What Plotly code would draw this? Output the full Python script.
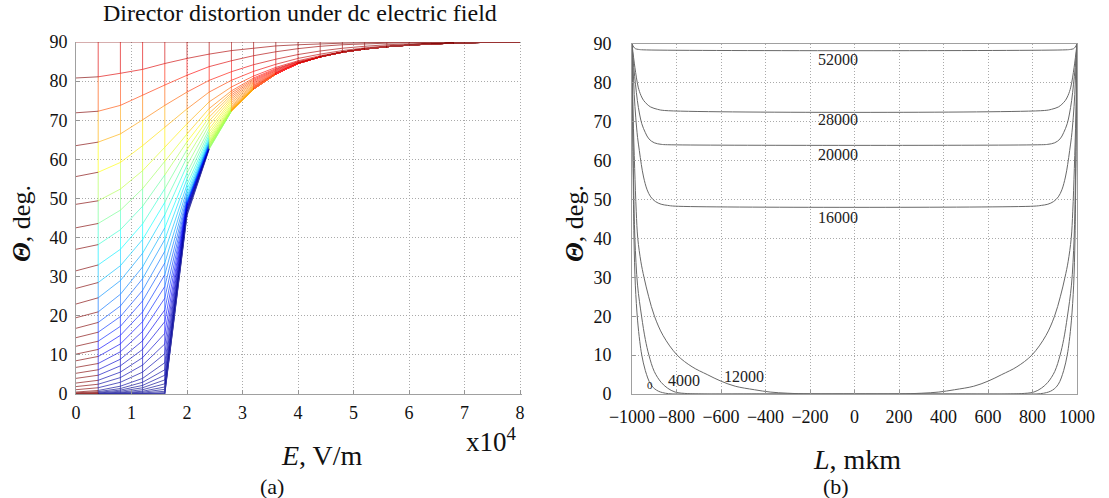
import plotly.graph_objects as go
from plotly.colors import sample_colorscale

W, H = 1109, 498

# ---------------- panel (a): director angle vs field, mesh lines ----------------
E_grid = [0.0, 0.4, 0.8, 1.2, 1.6, 2.0, 2.4, 2.8, 3.2, 3.6, 4.0,
          4.4, 4.8, 5.2, 5.6, 6.0, 6.4, 6.8, 7.2, 7.6, 8.0]   # x10^4 V/m

# lines near the walls (full rows, all 21 field values)
wall_rows_full = [
    [90.0, 90.0, 90.0, 90.0, 90.0, 90.0, 90.0, 90.0, 90.0, 90.0, 90.0, 90.0, 90.0, 90.0, 90.0, 90.0, 90.0, 90.0, 90.0, 90.0, 90.0],
    [80.8, 81.1, 82.0, 83.0, 84.5, 85.8, 86.9, 87.8, 88.4, 89.0, 89.3, 89.5, 89.7, 89.8, 89.9, 89.95, 90.0, 90.0, 90.0, 90.0, 90.0],
    [71.9, 72.3, 73.8, 76.4, 79.0, 81.5, 83.7, 85.2, 86.5, 87.5, 88.3, 88.9, 89.3, 89.5, 89.7, 89.8, 89.9, 89.95, 90.0, 90.0, 90.0],
    [63.5, 64.4, 66.5, 70.1, 73.8, 77.2, 80.2, 82.4, 84.2, 85.6, 86.8, 87.7, 88.4, 88.9, 89.3, 89.5, 89.7, 89.8, 89.9, 90.0, 90.0],
    [55.6, 56.7, 59.2, 63.5, 68.2, 72.9, 77.2, 80.2, 82.5, 84.3, 85.8, 86.9, 87.8, 88.5, 89.0, 89.3, 89.6, 89.8, 89.9, 90.0, 90.0],
    [48.5, 49.4, 52.4, 57.1, 63.1, 69.1, 74.7, 78.5, 81.3, 83.5, 85.2, 86.5, 87.5, 88.3, 88.9, 89.3, 89.6, 89.8, 89.9, 90.0, 90.0],
]

# remaining lines: values for E = 0 ... 4.0, after which they all share the tail
rows_head = [
    [42.5, 43.6, 47.0, 52.5, 59.5, 66.5, 73.0, 77.5, 80.8, 83.2, 85.0],
    [37.0, 38.2, 42.0, 48.0, 56.0, 64.5, 71.8, 77.0, 80.5, 83.0, 84.9],
    [31.5, 33.0, 37.0, 43.5, 52.5, 62.5, 70.8, 76.5, 80.2, 82.8, 84.8],
    [27.0, 28.5, 32.8, 39.5, 49.0, 60.5, 69.8, 76.0, 79.9, 82.6, 84.7],
    [23.0, 24.6, 29.0, 36.0, 45.8, 58.5, 68.8, 75.5, 79.6, 82.4, 84.6],
    [19.5, 21.0, 25.5, 32.5, 42.5, 56.5, 67.8, 75.0, 79.3, 82.2, 84.6],
    [16.8, 18.3, 22.5, 29.5, 39.5, 55.0, 67.0, 74.5, 79.0, 82.1, 84.5],
    [14.4, 15.8, 19.8, 26.5, 36.5, 53.5, 66.3, 74.0, 78.8, 82.0, 84.5],
    [12.2, 13.5, 17.3, 23.8, 33.5, 52.3, 65.7, 73.6, 78.6, 81.9, 84.5],
    [10.2, 11.4, 15.0, 21.0, 30.5, 51.3, 65.2, 73.3, 78.4, 81.9, 84.5],
    [8.5, 9.6, 12.8, 18.5, 27.5, 50.5, 64.8, 73.0, 78.3, 81.8, 84.5],
    [6.8, 7.8, 10.8, 16.0, 24.5, 49.9, 64.5, 72.9, 78.2, 81.8, 84.5],
    [5.3, 6.2, 8.9, 13.6, 21.5, 49.4, 64.2, 72.8, 78.1, 81.8, 84.5],
    [4.0, 4.8, 7.2, 11.4, 18.5, 49.1, 64.0, 72.7, 78.1, 81.8, 84.5],
    [2.8, 3.5, 5.6, 9.3, 15.5, 48.9, 63.9, 72.6, 78.0, 81.8, 84.5],
    [1.9, 2.5, 4.2, 7.4, 12.8, 48.8, 63.8, 72.6, 78.0, 81.8, 84.5],
    [1.1, 1.6, 3.0, 5.6, 10.3, 48.7, 63.7, 72.5, 78.0, 81.8, 84.5],
    [0.5, 0.9, 2.0, 4.0, 8.0, 48.6, 63.6, 72.5, 78.0, 81.8, 84.5],
    [0.3, 0.6, 1.4, 3.0, 6.2, 48.3, 63.5, 72.5, 78.0, 81.8, 84.5],
    [0.2, 0.4, 1.0, 2.2, 4.8, 48.0, 63.4, 72.5, 78.0, 81.8, 84.5],
    [0.1, 0.25, 0.7, 1.6, 3.6, 47.7, 63.3, 72.5, 78.0, 81.8, 84.5],
    [0.05, 0.15, 0.45, 1.1, 2.6, 47.4, 63.2, 72.4, 78.0, 81.8, 84.5],
    [0.0, 0.1, 0.3, 0.7, 1.8, 47.1, 63.1, 72.4, 78.0, 81.8, 84.5],
    [0.0, 0.05, 0.2, 0.45, 1.2, 46.8, 63.0, 72.4, 78.0, 81.8, 84.5],
    [0.0, 0.0, 0.1, 0.25, 0.7, 46.5, 62.9, 72.4, 78.0, 81.8, 84.5],
    [0.0, 0.0, 0.05, 0.1, 0.35, 46.2, 62.8, 72.3, 78.0, 81.8, 84.5],
    [0.0, 0.0, 0.0, 0.05, 0.15, 45.9, 62.7, 72.3, 78.0, 81.8, 84.5],
    [0.0, 0.0, 0.0, 0.0, 0.0, 45.6, 62.6, 72.3, 78.0, 81.8, 84.5],
]
tail_values = [86.2, 87.4, 88.2, 88.8, 89.2, 89.5, 89.7, 89.85, 89.95, 90.0]

theta_rows = wall_rows_full + [h + tail_values for h in rows_head]

# ---------------- panel (b): profiles across the cell ----------------
L_0 = [-1000, -998, -995, -991, -985, -975, -965, -956, -940, -916, -890, -850, -700, -500, -200, 0,
       200, 500, 700, 850, 890, 916, 940, 956, 965, 975, 985, 991, 995, 998, 1000]
T_0 = [90, 75, 58, 40, 28, 19, 13.5, 10, 6, 2.5, 1.0, 0.2, 0, 0, 0, 0,
       0, 0, 0, 0.2, 1.0, 2.5, 6, 10, 13.5, 19, 28, 40, 58, 75, 90]
L_4000 = [-1000, -997, -993, -987, -975, -957, -940, -924, -900, -869, -840, -806, -750, -700, -400, 0,
          400, 700, 750, 806, 840, 869, 900, 924, 940, 957, 975, 987, 993, 997, 1000]
T_4000 = [90, 72, 55, 40, 28, 20, 14, 10, 5.8, 3.0, 1.5, 0.5, 0.1, 0, 0, 0,
          0, 0, 0.1, 0.5, 1.5, 3.0, 5.8, 10, 14, 20, 28, 40, 55, 72, 90]
L_12000 = [-1000, -995, -988, -981, -974, -960, -946, -925, -899, -860, -797, -730, -662, -600, -536, -450, -379, -300, -200, 0,
           200, 300, 379, 450, 536, 600, 662, 730, 797, 860, 899, 925, 946, 960, 974, 981, 988, 995, 1000]
T_12000 = [90, 72, 58, 47, 40, 34, 30, 25, 20, 15, 10, 7, 5, 3.3, 2.0, 1.1, 0.5, 0.2, 0.02, 0,
           0.02, 0.2, 0.5, 1.1, 2.0, 3.3, 5, 7, 10, 15, 20, 25, 30, 34, 40, 47, 58, 72, 90]
L_16000 = [-1000, -995, -990, -983, -975, -967, -958, -948, -932, -916, -895, -869, -840, -806,
           806, 840, 869, 895, 916, 932, 948, 958, 967, 975, 983, 990, 995, 1000]
T_16000 = [90, 84, 77, 71, 66, 62.6, 59, 55.8, 52.5, 50.7, 49.5, 48.8, 48.5, 48.3,
           48.3, 48.5, 48.8, 49.5, 50.7, 52.5, 55.8, 59, 62.6, 66, 71, 77, 84, 90]
L_20000 = [-1000, -992, -984, -976, -966, -956, -940, -924, -900, -869, -840,
           840, 869, 900, 924, 940, 956, 966, 976, 984, 992, 1000]
T_20000 = [90, 84, 79.5, 75.5, 72, 69.5, 67.2, 65.6, 64.6, 64.2, 64.1,
           64.1, 64.2, 64.6, 65.6, 67.2, 69.5, 72, 75.5, 79.5, 84, 90]
L_28000 = [-1000, -987, -972, -960, -948, -932, -916, -885, -853,
           853, 885, 916, 932, 948, 960, 972, 987, 1000]
T_28000 = [90, 84, 78.9, 76.8, 75.5, 74.5, 73.8, 73.2, 72.9,
           72.9, 73.2, 73.8, 74.5, 75.5, 76.8, 78.9, 84, 90]
L_52000 = [-1000, -992, -985, -970, -950, 950, 970, 985, 992, 1000]
T_52000 = [90, 89.2, 88.8, 88.6, 88.5, 88.5, 88.6, 88.8, 89.2, 90]

profile_L = [L_0, L_4000, L_12000, L_16000, L_20000, L_28000, L_52000]
profile_T = [T_0, T_4000, T_12000, T_16000, T_20000, T_28000, T_52000]

label_text = ["0", "4000", "12000", "16000", "20000", "28000", "52000"]
label_L = [-919, -765, -495, -72, -72, -72, -72]
label_T = [2.2, 3.6, 4.4, 45.3, 61.5, 70.7, 85.9]

# ---------------- colour (MATLAB jet) ----------------
JET = [[0.0, 'rgb(0,0,143)'], [0.111, 'rgb(0,0,255)'], [0.365, 'rgb(0,255,255)'],
       [0.619, 'rgb(255,255,0)'], [0.873, 'rgb(255,0,0)'], [1.0, 'rgb(128,0,0)']]
NBIN = 64
bin_cols = sample_colorscale(JET, [i / (NBIN - 1) for i in range(NBIN)])

bins = {}
def add_seg(x0, y0, x1, y1, cval):
    b = int(round(max(0.0, min(1.0, cval / 90.0)) * (NBIN - 1)))
    xs, ys = bins.setdefault(b, ([], []))
    xs += [x0, x1, None]
    ys += [y0, y1, None]

n = len(E_grid)
# vertical mesh edges (constant field)
for j in range(1, n):
    for k in range(len(theta_rows) - 1):
        a, b = theta_rows[k][j], theta_rows[k + 1][j]
        if a != b:
            add_seg(E_grid[j], a, E_grid[j], b, theta_rows[k + 1][j - 1])
# mesh edges along the field
for row in theta_rows:
    for j in range(n - 1):
        add_seg(E_grid[j], row[j], E_grid[j + 1], row[j + 1], row[(j - 1) % n])

fig = go.Figure()
for b in sorted(bins):
    xs, ys = bins[b]
    fig.add_trace(go.Scatter(x=xs, y=ys, mode='lines', line=dict(color=bin_cols[b], width=0.8),
                             opacity=0.8, hoverinfo='skip', showlegend=False, xaxis='x', yaxis='y'))

for Lx, Ty in zip(profile_L, profile_T):
    fig.add_trace(go.Scatter(x=Lx, y=Ty, mode='lines', line=dict(color='rgb(105,105,105)', width=1),
                             line_shape='spline', hoverinfo='skip', showlegend=False, xaxis='x2', yaxis='y2'))

SERIF = "Liberation Serif"
ann = []
for t, lx, ty in zip(label_text, label_L, label_T):
    ann.append(dict(x=lx, y=ty, xref='x2', yref='y2', text=t, showarrow=False,
                    font=dict(family=SERIF, size=11 if t == "0" else 16, color='#222')))

def P(px, py):
    return px / W, 1 - py / H

def pann(px, py, text, size, angle=0):
    x, y = P(px, py)
    ann.append(dict(x=x, y=y, xref='paper', yref='paper', text=text, showarrow=False,
                    textangle=angle, xanchor='center', yanchor='middle',
                    font=dict(family=SERIF, size=size, color='#111')))

pann(300, 13, "Director distortion under dc electric field", 24)
pann(21, 224, "<b><i>Θ</i></b>, deg.", 26, -90)
pann(574, 224, "<b><i>Θ</i></b>, deg.", 26, -90)
pann(322, 455, "<i>E</i>, V/m", 28)
pann(491, 440, "x10<sup>4</sup>", 27)
pann(272, 486, "(a)", 22)
pann(857, 459, "<i>L</i>, mkm", 28)
pann(836, 486, "(b)", 22)

grid_common = dict(showgrid=True, gridcolor='rgb(170,170,170)', griddash='1px,2px', gridwidth=1,
                   zeroline=False, ticks='inside', ticklen=4, tickcolor='rgb(150,150,150)',
                   tickfont=dict(family=SERIF, size=18, color='#111'), showline=True,
                   linecolor='rgb(160,160,160)', linewidth=1, automargin=False, tickangle=0)

fig.update_layout(
    width=W, height=H, margin=dict(l=0, r=0, t=0, b=0),
    paper_bgcolor='white', plot_bgcolor='white', annotations=ann,
    xaxis=dict(domain=[76 / W, 522 / W], range=[0, 8.036], tickvals=[0, 1, 2, 3, 4, 5, 6, 7, 8],
               anchor='y', ticklabelstandoff=2, **grid_common),
    yaxis=dict(domain=[1 - 394 / H, 1 - 42 / H], range=[0, 90], tickvals=list(range(0, 91, 10)),
               anchor='x', ticklabelstandoff=4, **grid_common),
    xaxis2=dict(domain=[632 / W, 1077 / W], range=[-1000, 1000], tickvals=list(range(-1000, 1001, 200)),
                anchor='y2', mirror=True, ticklabelstandoff=6, **grid_common),
    yaxis2=dict(domain=[1 - 394 / H, 1 - 44 / H], range=[0, 90], tickvals=list(range(0, 91, 10)),
                anchor='x2', mirror=True, ticklabelstandoff=16, **grid_common),
)

fig.write_html("out.html", config={'displayModeBar': False},
               post_script="document.body.style.margin='0';document.body.style.overflow='hidden';")
